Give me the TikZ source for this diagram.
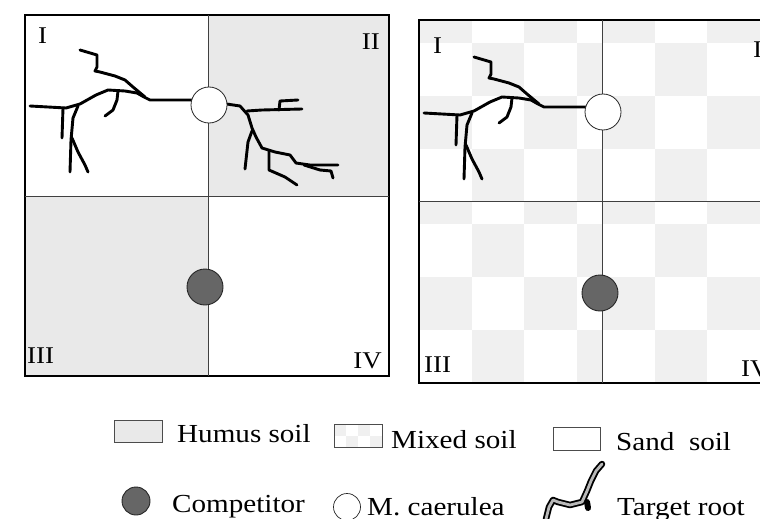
\documentclass[tikz,border=0pt]{standalone}
\usepackage{fontspec}
\setmainfont{Liberation Serif}[FakeStretch=1.12]
\usepackage{tikz}
\usetikzlibrary{positioning}

% root system of the target plant, drawn in pixel-like units
\newcommand{\targetroots}{%
  \draw[root] (200,100) -- (150,100) -- (144,97) -- (137,93) -- (125,91)
    -- (108,90) -- (96,95) -- (80,104) -- (66,108) -- (30,106);
  \draw[root] (118,91) -- (117,100) -- (113,110) -- (105,116);
  \draw[root] (145,97) -- (133,87) -- (125,80) -- (115,76) -- (100,72)
    -- (95,71) -- (97,67) -- (97,55) -- (80,50);
  \draw[root] (63,108) -- (62,138);
  \draw[root] (78,106) -- (73,118) -- (71,140) -- (70,172);
  \draw[root] (72,138) -- (78,152) -- (85,165) -- (88,172);
}

\begin{document}
\begin{tikzpicture}[x=1pt,y=-1pt,
    every node/.style={font=\fontsize{26}{30}\selectfont,inner sep=0pt},
    quad/.style={font=\fontsize{24}{28}\selectfont},
    soil/.style={fill=gray!17},
    mixsoil/.style={fill=gray!12},
    frame/.style={draw=black,line width=1.1pt},
    divide/.style={draw=black!75,line width=0.7pt},
    root/.style={line width=2.9pt,line cap=round,line join=round},
    mcae/.style={circle,draw=black!85,fill=white,line width=0.8pt,minimum size=36pt},
    comp/.style={circle,draw=black!85,fill=black!60,line width=0.9pt,minimum size=36pt},
    keybox/.style={draw=black!70,line width=0.6pt},
  ]
  \useasboundingbox (0,0) rectangle (760,519);
  \clip (0,0) rectangle (760,519);

  % left pot: humus and sand quarters
  \fill[soil] (208,15) rectangle (389,196);
  \fill[soil] (25,196) rectangle (208,376);
  \draw[frame] (25,15) rectangle (389,376);
  \draw[divide] (208,15) -- (208,376) (25,196) -- (389,196);

  \targetroots
  \draw[root] (220,103) -- (240,106) -- (248,115) -- (252,128) -- (256,137)
    -- (262,148) -- (275,152) -- (290,155) -- (296,163) -- (310,165) -- (338,165);
  \draw[root] (247,111) -- (262,110) -- (302,109);
  \draw[root] (279,110) -- (280,101) -- (298,100);
  \draw[root] (252,131) -- (248,142) -- (246,160) -- (245,169);
  \draw[root] (269,151) -- (269,170) -- (285,177) -- (297,185);
  \draw[root] (304,165) -- (320,170) -- (331,171) -- (333,178);

  \node[mcae] (mcA) at (209,105) {};
  \node[comp] (compA) at (205,287) {};

  \node[quad,anchor=base west] (qA1) at (38,44) {I};
  \node[quad,anchor=base east] (qA2) at (380,50) {II};
  \node[quad,anchor=base west] (qA3) at (27,363) {III};
  \node[quad,anchor=base east] (qA4) at (382,368) {IV};

  % right pot: mixed soil everywhere, checker in each quarter
  \foreach \qx/\qy/\qw/\qh in {419/20/183/181, 602/20/182/181, 419/201/183/182, 602/201/182/182} {
    \begin{scope}
      \clip (\qx,\qy) rectangle ++(\qw,\qh);
      \foreach \i in {0,...,3}
        \foreach \j in {0,...,4} {
          \ifodd\numexpr\i+\j\relax\else
            \fill[mixsoil] ({\qx+52.5*\i},{\qy-30+53*\j}) rectangle ++(52.5,53);
          \fi
        }
    \end{scope}
  }
  \draw[frame] (419,20) rectangle (784,383);
  \draw[divide] (602,20) -- (602,383) (419,201) -- (784,201);

  \begin{scope}[shift={(394,7)}]
    \targetroots
  \end{scope}

  \node[mcae] (mcB) at (603,112) {};
  \node[comp] (compB) at (600,293) {};

  \node[quad,anchor=base west] (qB1) at (433,53) {I};
  \node[quad,anchor=base west] (qB2) at (753,58) {II};
  \node[quad,anchor=base west] (qB3) at (424,372) {III};
  \node[quad,anchor=base west] (qB4) at (741,376) {IV};

  % key
  \draw[keybox,soil] (114,420) rectangle (162,442);
  \node[anchor=base west] (humus) at (177,442) {Humus soil};

  \begin{scope}
    \clip (334,424) rectangle (382,447);
    \foreach \i in {0,...,3}
      \foreach \j in {0,...,1} {
        \ifodd\numexpr\i+\j\relax\else
          \fill[mixsoil] ({334+12*\i},{424+11.5*\j}) rectangle ++(12,11.5);
        \fi
      }
  \end{scope}
  \draw[keybox] (334,424) rectangle (382,447);
  \node[anchor=base west] (mixed) at (391,448) {Mixed soil};

  \draw[keybox] (553,427) rectangle (600,450);
  \node[anchor=base west] (sand) at (616,450) {Sand\ \ soil};

  \node[comp,minimum size=28pt] (compKey) at (136,501) {};
  \node[anchor=base west] (competitor) at (172,512) {Competitor};

  \node[mcae,minimum size=27pt,line width=0.7pt] (mcKey) at (347,507) {};
  \node[anchor=base west] (caerulea) at (367,515) {M. caerulea};

  \draw[line width=6.5pt,line cap=round,line join=round]
    (546,519) -- (549,507) -- (553,500) -- (558,502) -- (570,505) -- (582,502)
    -- (587,491) -- (591,481) -- (596,471) -- (602,464);
  \draw[line width=6pt,line cap=round] (587,502) -- (588,508);
  \draw[gray!55,line width=2.8pt,line cap=round,line join=round]
    (546,519) -- (549,507) -- (553,500) -- (558,502) -- (570,505) -- (582,502)
    -- (587,491) -- (591,481) -- (596,471) -- (602,464);
  \node[anchor=base west] (target) at (617,515) {Target root};
\end{tikzpicture}
\end{document}
